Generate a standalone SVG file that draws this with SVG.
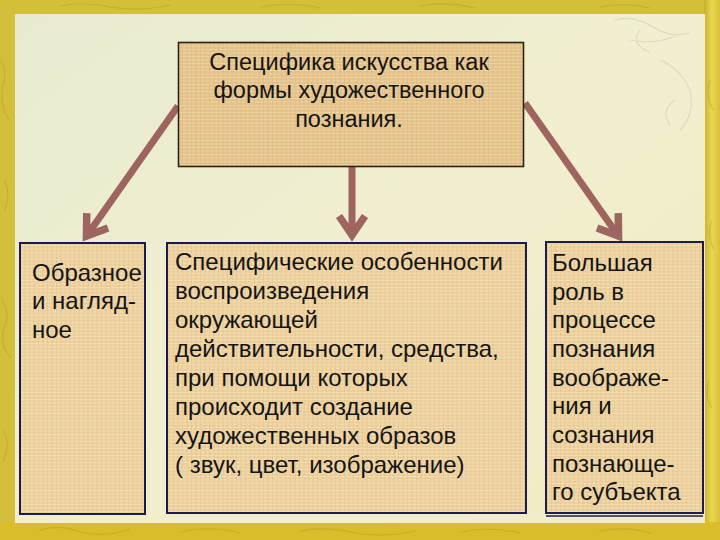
<svg xmlns="http://www.w3.org/2000/svg" width="720" height="540" viewBox="0 0 720 540">
<defs>
<style>
.txt{font-family:"Liberation Sans",Arial,sans-serif;fill:#141414;}
.top{font-size:23.5px;text-anchor:middle;}
.body{font-size:24px;}
.boxT{stroke:#2b2218;stroke-width:1.6;}
.boxB{stroke:#1d1b4d;stroke-width:2;}
.arrow{fill:none;stroke:#9d6460;stroke-width:7;marker-end:url(#head);}
</style>
<marker id="head" markerUnits="userSpaceOnUse" viewBox="-30 -20 45 40" markerWidth="45" markerHeight="40" refX="0" refY="0" orient="auto">
<path d="M-17,-13 L2,0 L-17,13" fill="none" stroke="#9d6460" stroke-width="7.5" stroke-linejoin="miter" stroke-miterlimit="10"/>
</marker>
<linearGradient id="bg" x1="0" y1="0" x2="1" y2="1">
<stop offset="0" stop-color="#e8ead0"/>
<stop offset="0.5" stop-color="#f1efcf"/>
<stop offset="1" stop-color="#f0ebc2"/>
</linearGradient>
<linearGradient id="rightEdge" x1="0" y1="0" x2="1" y2="0">
<stop offset="0" stop-color="#c9b22a"/>
<stop offset="0.5" stop-color="#e9d752"/>
<stop offset="1" stop-color="#d8c035"/>
</linearGradient>
<pattern id="papyrus" width="9" height="7" patternUnits="userSpaceOnUse">
<rect width="9" height="7" fill="#ecd09e"/>
<path d="M0,0.5 H9 M0,4 H9" stroke="#f3dfb4" stroke-width="1"/>
<path d="M2.5,0 V7 M7,0 V7" stroke="#e2c288" stroke-width="0.8" opacity="0.7"/>
</pattern>
<pattern id="papyrusDark" width="9" height="7" patternUnits="userSpaceOnUse">
<rect width="9" height="7" fill="#e5c38c"/>
<path d="M0,0.5 H9 M0,4 H9" stroke="#eed4a2" stroke-width="1"/>
<path d="M2.5,0 V7 M7,0 V7" stroke="#d9b77c" stroke-width="0.8" opacity="0.7"/>
</pattern>
</defs>

<g id="background">
<rect x="0" y="0" width="720" height="540" fill="#d4bf3a"/>
<rect x="704" y="0" width="16" height="540" fill="url(#rightEdge)"/>
<rect x="0" y="522" width="720" height="18" fill="#d9bd2a"/>
<path d="M0,60 q8,10 3,25 q-4,20 6,35 M4,180 q7,12 1,30 M2,300 q9,14 2,28 q-5,18 7,30 M3,430 q8,12 0,32 M40,530 q20,-6 40,2 q25,6 50,-3 M180,532 q30,-7 60,1 M300,531 q25,-5 55,2 q30,5 60,-2 M460,532 q30,-6 60,1 M600,531 q25,-5 50,2 M60,6 q25,-5 50,1 q30,5 60,-2 M260,7 q30,-6 60,1 M420,6 q25,-5 55,2 M600,7 q25,-5 50,1 M710,80 q-5,15 3,30 M712,220 q-6,14 2,30 M709,380 q-5,14 3,28" fill="none" stroke="#a8921e" stroke-width="1.2" opacity="0.35"/>
<rect x="15" y="14" width="690" height="509" fill="url(#bg)"/>
<rect x="15" y="514" width="690" height="9" fill="#f2eec8" opacity="0.8"/>
<path d="M615,20 q20,-5 40,8 q15,10 35,5 M630,40 q25,5 45,-4 M660,60 q20,8 30,30 q5,25 -10,40 M675,100 q-15,10 -5,25 M640,30 q-10,15 10,22" fill="none" stroke="#c8c8b8" stroke-width="1.2" opacity="0.5"/>
</g>

<g id="connectors">
<path class="arrow" d="M178,106 L87.6,234.5"/>
<path class="arrow" d="M352,167 L352,233"/>
<path class="arrow" d="M525,103 L617.4,234.5"/>
</g>

<g id="node-top">
<rect class="boxT" x="178.5" y="42.5" width="345" height="124" fill="url(#papyrusDark)"/>
<text class="txt top" x="349" y="70">Специфика искусства как</text>
<text class="txt top" x="349" y="98">формы художественного</text>
<text class="txt top" x="349" y="127">познания.</text>
</g>

<g id="node-left">
<rect class="boxB" x="20" y="243" width="125" height="271" fill="url(#papyrus)"/>
<text class="txt body" x="32" y="281">Образное</text>
<text class="txt body" x="32" y="309">и нагляд-</text>
<text class="txt body" x="32" y="338">ное</text>
</g>

<g id="node-middle">
<rect class="boxB" x="167" y="243" width="359" height="270" fill="url(#papyrus)"/>
<text class="txt body" x="175" y="270">Специфические особенности</text>
<text class="txt body" x="175" y="299">воспроизведения</text>
<text class="txt body" x="175" y="328">окружающей</text>
<text class="txt body" x="175" y="357">действительности, средства,</text>
<text class="txt body" x="175" y="386">при помощи которых</text>
<text class="txt body" x="175" y="415">происходит создание</text>
<text class="txt body" x="175" y="444">художественных образов</text>
<text class="txt body" x="175" y="473">( звук, цвет, изображение)</text>
</g>

<g id="node-right">
<rect class="boxB" x="546" y="242" width="157" height="271" fill="url(#papyrus)"/>
<path d="M546,516 H703" stroke="#1d1b4d" stroke-width="1.5"/>
<text class="txt body" x="552" y="271">Большая</text>
<text class="txt body" x="552" y="300">роль в</text>
<text class="txt body" x="552" y="328">процессе</text>
<text class="txt body" x="552" y="357">познания</text>
<text class="txt body" x="552" y="386">воображе-</text>
<text class="txt body" x="552" y="414">ния и</text>
<text class="txt body" x="552" y="443">сознания</text>
<text class="txt body" x="552" y="472">познающе-</text>
<text class="txt body" x="552" y="500">го субъекта</text>
</g>
</svg>
